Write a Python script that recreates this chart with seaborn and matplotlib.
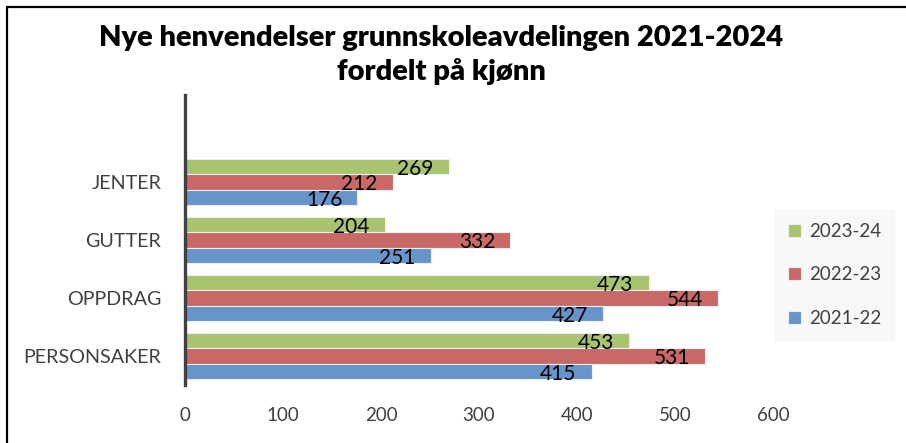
import matplotlib
matplotlib.use("Agg")
import matplotlib.pyplot as plt
import seaborn as sns
import pandas as pd

categories = ["JENTER", "GUTTER", "OPPDRAG", "PERSONSAKER"]
series_names = ["2023-24", "2022-23", "2021-22"]
v_2023_24 = [269, 204, 473, 453]
v_2022_23 = [212, 332, 544, 531]
v_2021_22 = [176, 251, 427, 415]
x_ticks = [0, 100, 200, 300, 400, 500, 600]
title = "Nye henvendelser grunnskoleavdelingen 2021-2024\nfordelt på kjønn"

colors = {"2023-24": "#a9c46f", "2022-23": "#c96967", "2021-22": "#6895c9"}

rows = []
for name, vals in zip(series_names, [v_2023_24, v_2022_23, v_2021_22]):
    for c, v in zip(categories, vals):
        rows.append({"Kategori": c, "Serie": name, "Antall": v})
df = pd.DataFrame(rows)

sns.set_theme(style="white")
plt.rcParams["font.family"] = ["Lato", "DejaVu Sans"]

fig = plt.figure(figsize=(9.06, 4.43), dpi=100)
ax = fig.add_axes([185/906, 1-385/443, (773-185)/906, (385-95)/443])

sns.barplot(data=df, y="Kategori", x="Antall", hue="Serie", order=categories,
            hue_order=series_names, palette=colors, orient="h", ax=ax,
            width=0.8, edgecolor="#e8eef5", linewidth=0.8, saturation=1, errorbar=None)

ax.set_xlim(0, 600)
ax.set_ylim(3.5, -1.5)
ax.set_xticks(x_ticks)
ax.set_xticklabels([str(t) for t in x_ticks], fontsize=13.5, color="#404040")
ax.tick_params(axis="y", labelsize=14.2, labelcolor="#404040", length=0, pad=17)
ax.tick_params(axis="x", length=0, pad=16)
ax.set_xlabel("")
ax.set_ylabel("")
for s in ["top", "right", "bottom"]:
    ax.spines[s].set_visible(False)
ax.spines["left"].set_color("#404040")
ax.spines["left"].set_linewidth(2.4)

for cont in ax.containers:
    for bar in cont:
        w = bar.get_width()
        ax.annotate(f"{int(round(w))}", xy=(w, bar.get_y() + bar.get_height()/2),
                    xytext=(-11, -1.5), textcoords="offset points",
                    ha="right", va="center", fontsize=15, color="black")

handles, labels = ax.get_legend_handles_labels()
ax.legend_.remove()
leg = fig.legend(handles, labels, loc="upper left", bbox_to_anchor=(775/906, 1-210/443),
                 frameon=True, fontsize=13.5, handlelength=0.7, handleheight=0.7,
                 handletextpad=0.4, labelspacing=1.4, borderpad=0.7, borderaxespad=0)
leg.get_frame().set_facecolor("#f7f7f7")
leg.get_frame().set_edgecolor("#f7f7f7")
leg.get_frame().set_boxstyle("square", pad=0)
for t in leg.get_texts():
    t.set_color("#404040")

fig.text(441/906, 1-55/443, title, ha="center", va="center", fontsize=21,
         fontweight="heavy", color="black", linespacing=1.33)

# crop border (left and top)
fig.add_artist(plt.Line2D([7/906, 7/906], [0, 1-7/443], color="black", lw=1.6, transform=fig.transFigure))
fig.add_artist(plt.Line2D([7/906, 1], [1-7/443, 1-7/443], color="black", lw=1.6, transform=fig.transFigure))

fig.savefig("out.png", dpi=100)
